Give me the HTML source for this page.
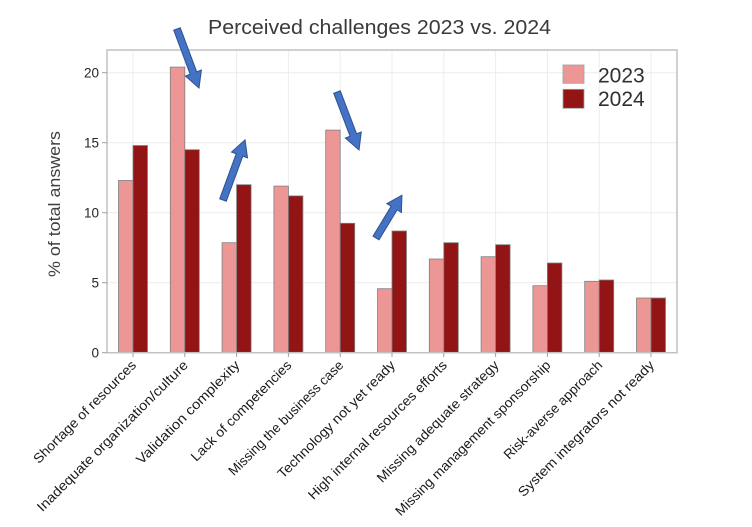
<!DOCTYPE html>
<html>
<head>
<meta charset="utf-8">
<style>
html,body{margin:0;padding:0;background:#fff;}
svg{display:block;}
text{font-family:"Liberation Sans",sans-serif;}
</style>
</head>
<body>
<svg width="752" height="527" viewBox="0 0 752 527" xmlns="http://www.w3.org/2000/svg">
<rect width="752" height="527" fill="#fff"/>
<!-- title -->
<text x="208" y="34" font-size="20.5" fill="#3a3a3a" textLength="343" lengthAdjust="spacingAndGlyphs">Perceived challenges 2023 vs. 2024</text>
<!-- grid -->
<g stroke="#ececec" stroke-width="1">
<line x1="107" y1="72.7" x2="677" y2="72.7"/>
<line x1="107" y1="142.7" x2="677" y2="142.7"/>
<line x1="107" y1="212.7" x2="677" y2="212.7"/>
<line x1="107" y1="282.7" x2="677" y2="282.7"/>
<line x1="133" y1="50" x2="133" y2="353"/>
<line x1="184.8" y1="50" x2="184.8" y2="353"/>
<line x1="236.6" y1="50" x2="236.6" y2="353"/>
<line x1="288.4" y1="50" x2="288.4" y2="353"/>
<line x1="340.2" y1="50" x2="340.2" y2="353"/>
<line x1="392" y1="50" x2="392" y2="353"/>
<line x1="443.8" y1="50" x2="443.8" y2="353"/>
<line x1="495.6" y1="50" x2="495.6" y2="353"/>
<line x1="547.4" y1="50" x2="547.4" y2="353"/>
<line x1="599.2" y1="50" x2="599.2" y2="353"/>
<line x1="651" y1="50" x2="651" y2="353"/>
</g>
<!-- bars -->
<g stroke="#808080" stroke-width="0.8">
<rect x="118.5" y="180.5" width="14.5" height="172.2" fill="#EC9696"/>
<rect x="133" y="145.5" width="14.5" height="207.2" fill="#921414"/>

<rect x="170.3" y="67.1" width="14.5" height="285.6" fill="#EC9696"/>
<rect x="184.8" y="149.7" width="14.5" height="203" fill="#921414"/>

<rect x="222.1" y="242.7" width="14.5" height="110" fill="#EC9696"/>
<rect x="236.6" y="184.7" width="14.5" height="168" fill="#921414"/>

<rect x="273.9" y="186.1" width="14.5" height="166.6" fill="#EC9696"/>
<rect x="288.4" y="195.9" width="14.5" height="156.8" fill="#921414"/>

<rect x="325.7" y="130.1" width="14.5" height="222.6" fill="#EC9696"/>
<rect x="340.2" y="223.3" width="14.5" height="129.4" fill="#921414"/>

<rect x="377.5" y="288.7" width="14.5" height="64" fill="#EC9696"/>
<rect x="392" y="231" width="14.5" height="121.7" fill="#921414"/>

<rect x="429.3" y="259" width="14.5" height="93.7" fill="#EC9696"/>
<rect x="443.8" y="242.7" width="14.5" height="110" fill="#921414"/>

<rect x="481.1" y="256.7" width="14.5" height="96" fill="#EC9696"/>
<rect x="495.6" y="244.7" width="14.5" height="108" fill="#921414"/>

<rect x="532.9" y="285.7" width="14.5" height="67" fill="#EC9696"/>
<rect x="547.4" y="263" width="14.5" height="89.7" fill="#921414"/>

<rect x="584.7" y="281.3" width="14.5" height="71.4" fill="#EC9696"/>
<rect x="599.2" y="280" width="14.5" height="72.7" fill="#921414"/>

<rect x="636.5" y="298" width="14.5" height="54.7" fill="#EC9696"/>
<rect x="651" y="298" width="14.5" height="54.7" fill="#921414"/>
</g>
<!-- frame -->
<rect x="107" y="50" width="570" height="302.7" fill="none" stroke="#c0c0c0" stroke-width="1.5"/>
<!-- ticks -->
<g stroke="#a0a0a0" stroke-width="1">
<line x1="102" y1="72.7" x2="107" y2="72.7"/>
<line x1="102" y1="142.7" x2="107" y2="142.7"/>
<line x1="102" y1="212.7" x2="107" y2="212.7"/>
<line x1="102" y1="282.7" x2="107" y2="282.7"/>
<line x1="102" y1="352.7" x2="107" y2="352.7"/>
<line x1="133" y1="353" x2="133" y2="357"/>
<line x1="184.8" y1="353" x2="184.8" y2="357"/>
<line x1="236.6" y1="353" x2="236.6" y2="357"/>
<line x1="288.4" y1="353" x2="288.4" y2="357"/>
<line x1="340.2" y1="353" x2="340.2" y2="357"/>
<line x1="392" y1="353" x2="392" y2="357"/>
<line x1="443.8" y1="353" x2="443.8" y2="357"/>
<line x1="495.6" y1="353" x2="495.6" y2="357"/>
<line x1="547.4" y1="353" x2="547.4" y2="357"/>
<line x1="599.2" y1="353" x2="599.2" y2="357"/>
<line x1="651" y1="353" x2="651" y2="357"/>
</g>
<g font-size="13.5" fill="#262626" text-anchor="end">
<text x="99" y="77.5">20</text>
<text x="99" y="147.5">15</text>
<text x="99" y="217.5">10</text>
<text x="99" y="287.5">5</text>
<text x="99" y="357.5">0</text>
</g>
<!-- y label -->
<text transform="translate(60,204) rotate(-90)" font-size="17" fill="#404040" text-anchor="middle" textLength="146" lengthAdjust="spacingAndGlyphs">% of total answers</text>
<!-- x labels -->
<g font-size="13.5" fill="#1a1a1a" text-anchor="end">
<text transform="translate(137,366) rotate(-45)" textLength="139" lengthAdjust="spacingAndGlyphs">Shortage of resources</text>
<text transform="translate(188.8,366) rotate(-45)" textLength="207" lengthAdjust="spacingAndGlyphs">Inadequate organization/culture</text>
<text transform="translate(240.6,366) rotate(-45)" textLength="140" lengthAdjust="spacingAndGlyphs">Validation complexity</text>
<text transform="translate(292.4,366) rotate(-45)" textLength="136" lengthAdjust="spacingAndGlyphs">Lack of competencies</text>
<text transform="translate(344.2,366) rotate(-45)" textLength="156" lengthAdjust="spacingAndGlyphs">Missing the business case</text>
<text transform="translate(396,366) rotate(-45)" textLength="160" lengthAdjust="spacingAndGlyphs">Technology not yet ready</text>
<text transform="translate(447.8,366) rotate(-45)" textLength="190" lengthAdjust="spacingAndGlyphs">High internal resources efforts</text>
<text transform="translate(499.6,366) rotate(-45)" textLength="166" lengthAdjust="spacingAndGlyphs">Missing adequate strategy</text>
<text transform="translate(551.4,366) rotate(-45)" textLength="213" lengthAdjust="spacingAndGlyphs">Missing management sponsorship</text>
<text transform="translate(603.2,366) rotate(-45)" textLength="133" lengthAdjust="spacingAndGlyphs">Risk-averse approach</text>
<text transform="translate(655,366) rotate(-45)" textLength="186" lengthAdjust="spacingAndGlyphs">System integrators not ready</text>
</g>
<!-- legend -->
<rect x="563" y="65" width="21" height="18.3" fill="#EC9696" stroke="#a0a0a0" stroke-width="0.8"/>
<rect x="563" y="89.3" width="21" height="19" fill="#921414" stroke="#a0a0a0" stroke-width="0.8"/>
<g font-size="21" fill="#303030">
<text x="598" y="82.7">2023</text>
<text x="598" y="106">2024</text>
</g>
<!-- arrows -->
<g fill="#4472C4" stroke="#2F528F" stroke-width="1" stroke-linejoin="miter">
<path transform="translate(177,29) rotate(69.55)" d="M0,-3.5 L47,-3.5 L47,-8.5 L63,0 L47,8.5 L47,3.5 L0,3.5 Z"/>
<path transform="translate(223,200) rotate(-69.86)" d="M0,-3.5 L48,-3.5 L48,-8.5 L64,0 L48,8.5 L48,3.5 L0,3.5 Z"/>
<path transform="translate(337,92) rotate(69.2)" d="M0,-3.5 L46,-3.5 L46,-8.5 L62,0 L46,8.5 L46,3.5 L0,3.5 Z"/>
<path transform="translate(376,238) rotate(-58.8)" d="M0,-3.5 L35,-3.5 L35,-8.5 L50,0 L35,8.5 L35,3.5 L0,3.5 Z"/>
</g>
</svg>
</body>
</html>
